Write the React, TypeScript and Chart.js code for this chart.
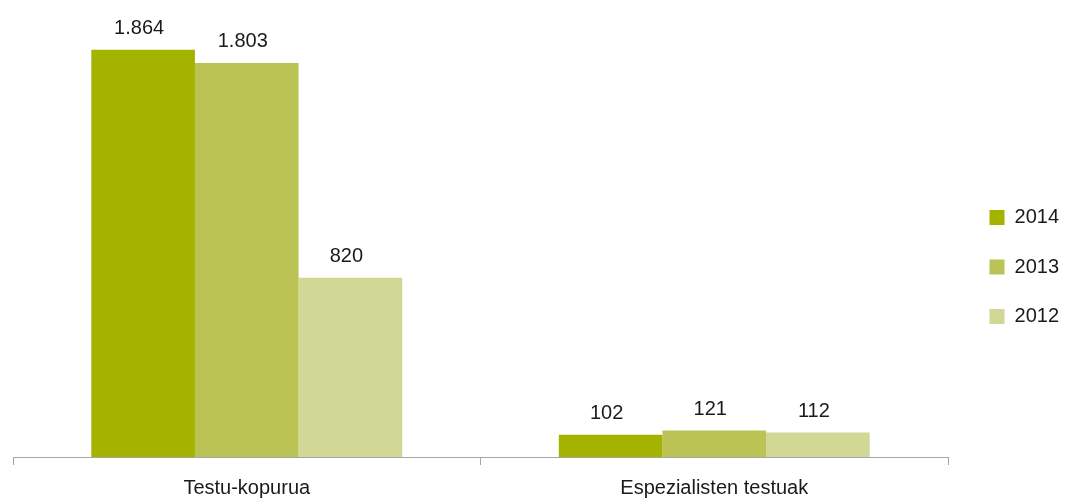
import React, { useEffect, useRef } from "react";
import { Chart, registerables } from "chart.js";

Chart.register(...registerables);

const categories = ["Testu-kopurua", "Espezialisten testuak"];
const seriesLabels = ["2014", "2013", "2012"];
const values2014 = [1864, 102];
const values2013 = [1803, 121];
const values2012 = [820, 112];
const seriesColors = ["#a3b300", "#bbc354", "#d1d795"];

const FONT = "'Liberation Sans', Arial, sans-serif";
const TEXT = "#1a1a1a";
const AXIS = "#a6a6a6";

function fmt(v: number): string {
  return String(v).replace(/\B(?=(\d{3})+(?!\d))/g, ".");
}

const valueLabels = {
  id: "valueLabels",
  afterDatasetsDraw(chart: any) {
    const ctx = chart.ctx;
    ctx.save();
    ctx.font = `20px ${FONT}`;
    ctx.fillStyle = TEXT;
    ctx.textAlign = "center";
    ctx.textBaseline = "alphabetic";
    chart.data.datasets.forEach((ds: any, i: number) => {
      const meta = chart.getDatasetMeta(i);
      meta.data.forEach((el: any, j: number) => {
        ctx.fillText(fmt(ds.data[j]), el.x - 4, el.y - 16);
      });
    });
    ctx.restore();
  },
};

export default function App() {
  const ref = useRef<HTMLCanvasElement>(null);
  useEffect(() => {
    if (!ref.current) return;
    const data = [values2014, values2013, values2012];
    const chart = new Chart(ref.current, {
      type: "bar",
      data: {
        labels: categories,
        datasets: seriesLabels.map((l, i) => ({
          label: l,
          data: data[i],
          backgroundColor: seriesColors[i],
          borderWidth: 0,
          barPercentage: 1,
          categoryPercentage: 0.665,
        })),
      },
      options: {
        responsive: false,
        animation: false,
        devicePixelRatio: 1,
        layout: { padding: { left: 13, top: 20, right: -4, bottom: 0 } },
        plugins: {
          tooltip: { enabled: false },
          legend: {
            position: "right",
            align: "center",
            title: { display: true, text: " ", padding: { top: 1.6, bottom: 0 }, font: { size: 12 } },
            labels: {
              boxWidth: 15,
              boxHeight: 15,
              padding: 29.5,
              color: TEXT,
              font: { family: FONT, size: 20 },
            },
          },
        },
        scales: {
          x: {
            grid: {
              display: true,
              drawOnChartArea: false,
              drawTicks: true,
              tickLength: 8,
              color: AXIS,
              offset: true,
            },
            border: { display: true, color: AXIS, width: 1 },
            ticks: { color: TEXT, padding: 11, font: { family: FONT, size: 20 } },
            afterFit: (s: any) => {
              s.height = 41;
            },
          },
          y: {
            position: "right",
            min: 0,
            max: 2000,
            grid: { display: false },
            border: { display: false },
            ticks: { display: false },
            afterFit: (s: any) => {
              s.width = 12;
            },
          },
        },
      },
      plugins: [valueLabels],
    });
    return () => chart.destroy();
  }, []);
  return (
    <div style={{ position: "absolute", left: 0, top: 0, width: 1065, height: 498, background: "#fff" }}>
      <canvas ref={ref} width={1065} height={498} />
    </div>
  );
}
